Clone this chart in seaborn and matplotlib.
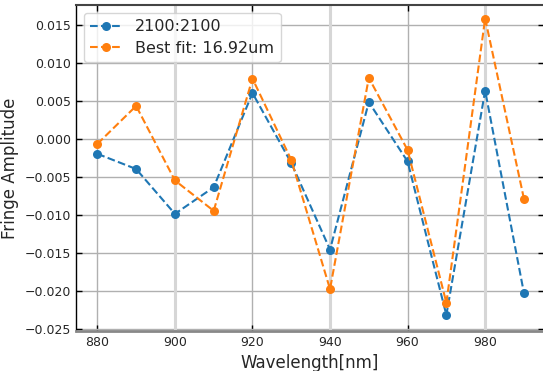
import matplotlib
matplotlib.use("Agg")
import matplotlib.pyplot as plt
import seaborn as sns
import pandas as pd
import numpy as np

wavelength = [880, 890, 900, 910, 920, 930, 940, 950, 960, 970, 980, 990]
measured = [-0.0020, -0.0040, -0.0099, -0.0064, 0.0060, -0.0032, -0.0146, 0.0048, -0.0030, -0.0232, 0.0063, -0.0203]
best_fit = [-0.0007, 0.0043, -0.0055, -0.0095, 0.0079, -0.0028, -0.0198, 0.0080, -0.0015, -0.0216, 0.0158, -0.0079]
labels = ["2100:2100", "Best fit: 16.92um"]
xticks = [880, 900, 920, 940, 960, 980]
yticks = [-0.025, -0.020, -0.015, -0.010, -0.005, 0.000, 0.005, 0.010, 0.015]

sns.set_style("white")
plt.rcParams['font.family'] = ['DejaVu Sans']

fig = plt.figure(figsize=(5.43, 3.71), dpi=100)
ax = fig.add_axes([0.140, 0.108, 0.862, 0.879])

colors = ["#1f77b4", "#ff7f0e"]
for vals, lab, c in zip([measured, best_fit], labels, colors):
    df = pd.DataFrame({"x": wavelength, "y": vals})
    sns.lineplot(data=df, x="x", y="y", ax=ax, color=c, linestyle="--", marker="o",
                 markersize=6.5, markeredgewidth=0, linewidth=1.5, label=lab, zorder=3)

ax.set_xlim(874.5, 995.2)
ax.set_ylim(-0.0253, 0.0176)
ax.set_xticks(xticks)
ax.set_yticks(yticks)
ax.set_yticklabels([f"{v:.3f}".replace("-", "\u2212") for v in yticks])
ax.grid(True, color="#b0b0b0", linewidth=1.0, zorder=0)
for xv in xticks[1::2]:
    ax.axvline(xv, color="#d6d6d6", linewidth=2.2, zorder=1)
ax.set_axisbelow(True)

ax.tick_params(direction="in", top=True, right=True, length=4, width=1, labelsize=9,
               color="black", bottom=True, left=True)
ax.set_xlabel("Wavelength[nm]", fontsize=12)
ax.set_ylabel("Fringe Amplitude", fontsize=12)

ax.spines["left"].set_color("black"); ax.spines["left"].set_linewidth(1.0)
ax.spines["top"].set_color("#444444"); ax.spines["top"].set_linewidth(1.5)
ax.spines["bottom"].set_color("#888888"); ax.spines["bottom"].set_linewidth(2.0)
ax.spines["right"].set_color("black"); ax.spines["right"].set_linewidth(1.0)

leg = ax.legend(loc="upper left", fontsize=11.5, frameon=True, borderpad=0.4,
                handlelength=2.0, labelspacing=0.4, bbox_to_anchor=(0.0, 1.0))
leg.get_frame().set_edgecolor("#cccccc")

fig.savefig("out.png", dpi=100)
